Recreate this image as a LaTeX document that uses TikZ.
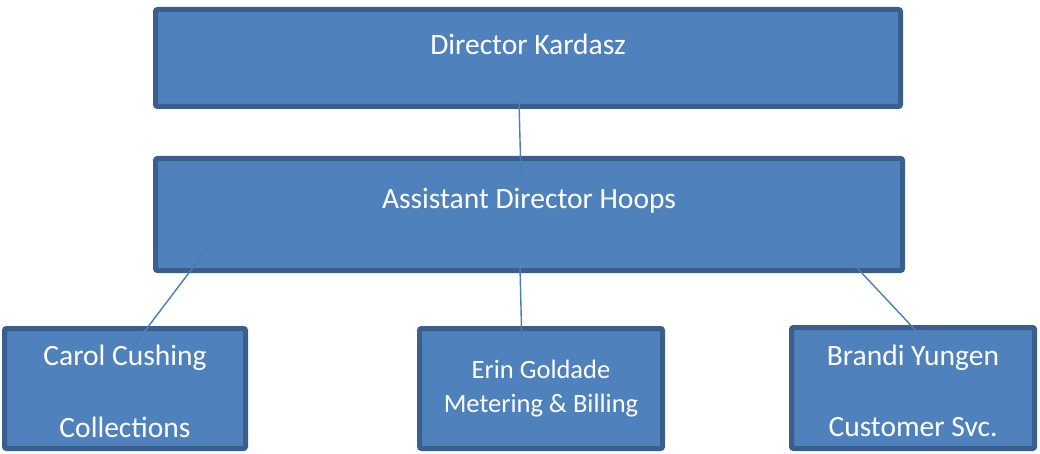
\documentclass[tikz,border=0pt]{standalone}
\usepackage{fontspec}
\setmainfont{Carlito}
\definecolor{boxfill}{HTML}{4F81BD}
\definecolor{boxedge}{HTML}{3A5F8C}
\definecolor{linkcol}{HTML}{4A7EBB}
\tikzset{
  orgbox/.style={draw=boxedge, fill=boxfill, line width=5pt, rounded corners=2pt, inner sep=0pt},
  big/.style={text=white, font=\fontsize{29.5}{34}\selectfont, inner sep=0pt},
  small/.style={text=white, font=\fontsize{26.5}{31}\selectfont, inner sep=0pt},
  link/.style={draw=linkcol, line width=1.4pt}
}
\begin{document}
\begin{tikzpicture}[x=1pt,y=-1pt]
\useasboundingbox (0,0) rectangle (1040,454);
\node[orgbox, minimum width=745pt, minimum height=97pt] (dir) at (528,58) {};
\node[orgbox, minimum width=747pt, minimum height=112pt] (asst) at (529,214.5) {};
\node[orgbox, minimum width=241pt, minimum height=120pt] (carol) at (125,388.5) {};
\node[orgbox, minimum width=243pt, minimum height=120pt] (erin) at (541,388.5) {};
\node[orgbox, minimum width=243pt, minimum height=121pt] (brandi) at (913,388) {};

\node[big] (tdir) at (528,44) {Director Kardasz};
\node[big] (tasst) at (529,201) {Assistant Director Hoops};
\node[big] (tcarol1) at (125,358) {Carol Cushing};
\node[big] (tcarol2) at (125,427) {Collections};
\node[small] (terin1) at (541,369) {Erin Goldade};
\node[small] (terin2) at (541,406) {Metering \& Billing};
\node[big] (tbrandi1) at (913,358) {Brandi Yungen};
\node[big] (tbrandi2) at (913,427) {Customer Svc.};

\coordinate (c1) at (519,100);
\coordinate (c2) at (521,180);
\coordinate (c3) at (520,268);
\coordinate (c4) at (522,348);
\coordinate (c5) at (210,245);
\coordinate (c6) at (132,348);
\coordinate (c7) at (843,253);
\coordinate (c8) at (920,335);
\draw[link] (c1) -- (c2);
\draw[link] (c3) -- (c4);
\draw[link] (c5) -- (c6);
\draw[link] (c7) -- (c8);
\end{tikzpicture}
\end{document}
